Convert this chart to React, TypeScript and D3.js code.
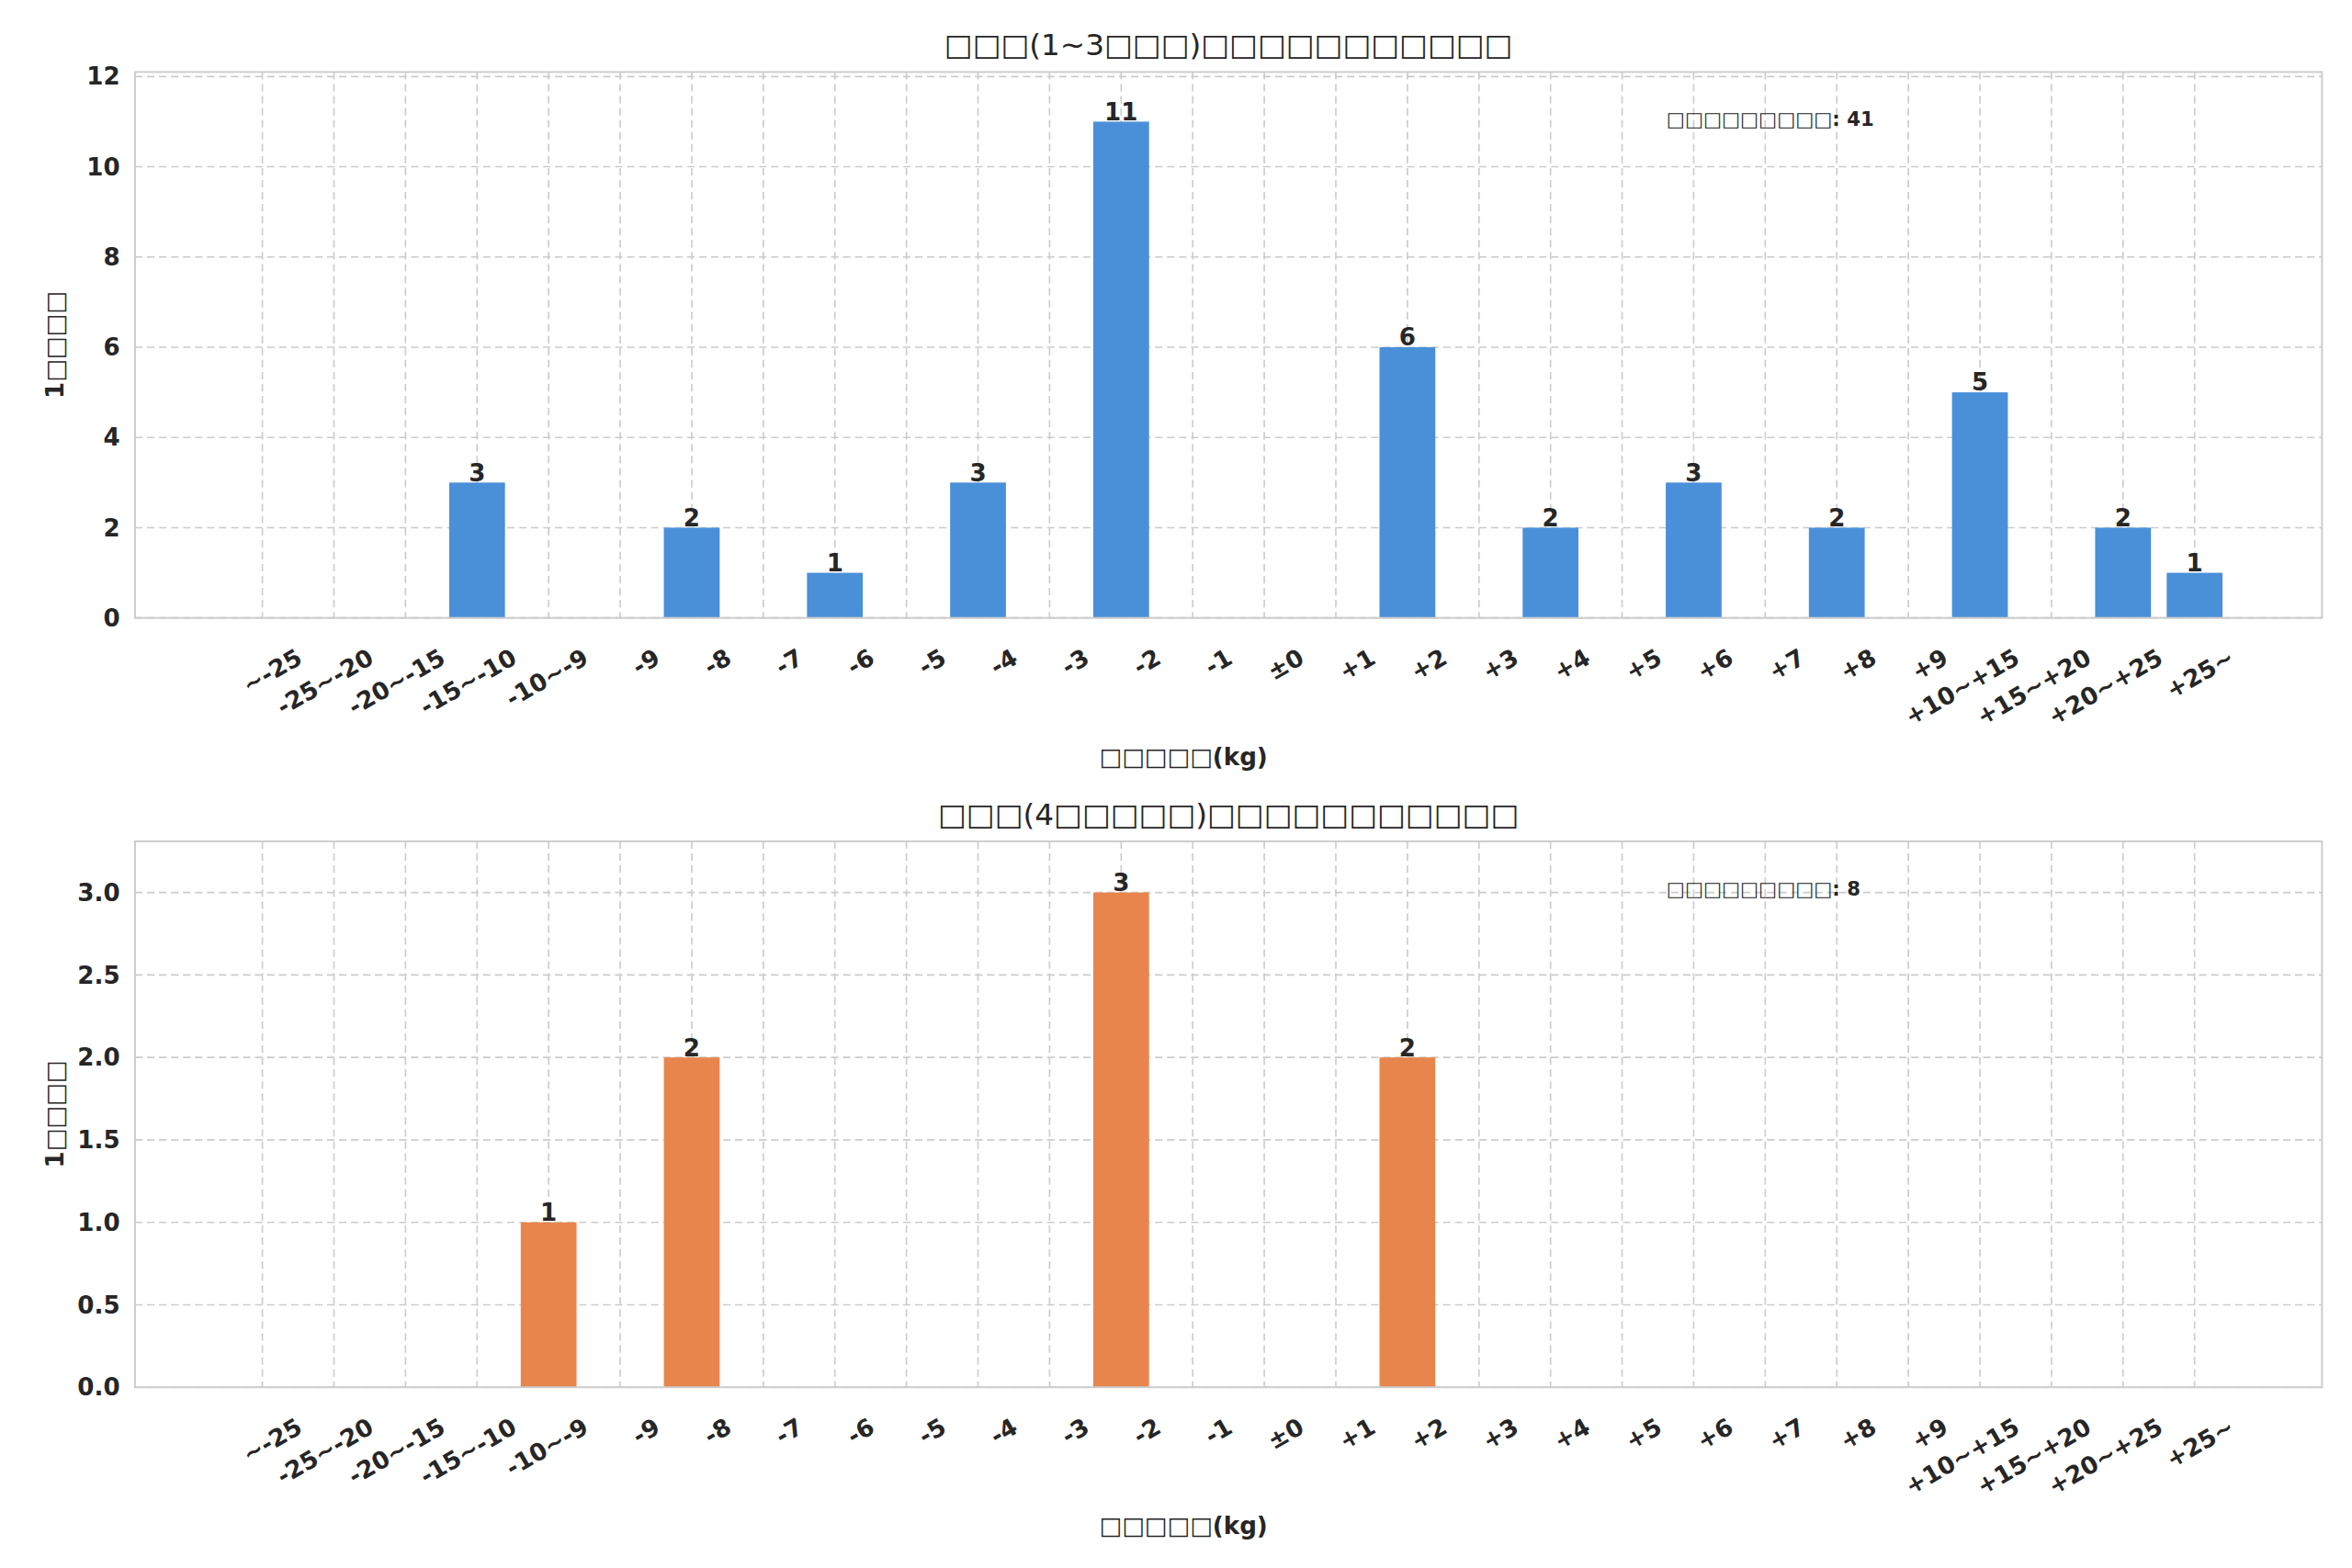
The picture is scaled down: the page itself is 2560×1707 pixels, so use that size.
import React from 'react';
import * as d3 from 'd3';

const categories = ['~-25', '-25~-20', '-20~-15', '-15~-10', '-10~-9', '-9', '-8', '-7', '-6', '-5', '-4', '-3', '-2', '-1', '±0',
  '+1', '+2', '+3', '+4', '+5', '+6', '+7', '+8', '+9', '+10~+15', '+15~+20', '+20~+25', '+25~'];
// bar values by tick index
const topCounts = [0, 0, 0, 3, 0, 0, 2, 0, 1, 0, 3, 0, 11, 0, 0, 0, 6, 0, 2, 0, 3, 0, 2, 0, 5, 0, 2, 1];
const bottomCounts = [0, 0, 0, 0, 1, 0, 2, 0, 0, 0, 0, 0, 3, 0, 0, 0, 2, 0, 0, 0, 0, 0, 0, 0, 0, 0, 0, 0];
const topTicks = [0, 2, 4, 6, 8, 10, 12];
const bottomTicks = [0, 0.5, 1, 1.5, 2, 2.5, 3];

const W = 1568;
const H = 1045.5;
const left = 90, right = 1548;
const ink = '#262626';
const font = 'DejaVu Sans, sans-serif';

interface PanelProps {
  top: number; bottom: number; counts: number[]; ticks: number[]; yMax: number;
  fmt: (v: number) => string; color: string; title: string; note: string;
}

const x = d3.scaleLinear().domain([-1.78, 28.78]).range([left, right]);
const barW = 0.78 * (x(1) - x(0));

const Panel: React.FC<PanelProps> = ({ top, bottom, counts, ticks, yMax, fmt, color, title, note }) => {
  const y = d3.scaleLinear().domain([0, yMax]).range([bottom, top]);
  const mid = (top + bottom) / 2;
  return (
    <g fontFamily={font} fill={ink}>
      {categories.map((_, i) => (
        <line key={'gx' + i} x1={x(i)} x2={x(i)} y1={top} y2={bottom} stroke="#cccccc" strokeDasharray="5,3" strokeWidth={1} />
      ))}
      {ticks.map(t => (
        <line key={'gy' + t} x1={left} x2={right} y1={y(t)} y2={y(t)} stroke="#cccccc" strokeDasharray="5,3" strokeWidth={1} />
      ))}
      {counts.map((c, i) => c > 0 && (
        <g key={'b' + i}>
          <rect x={x(i) - barW / 2} width={barW} y={y(c)} height={y(0) - y(c)} fill={color} />
          <text x={x(i)} y={y(c) - 1} textAnchor="middle" fontSize={16} fontWeight="bold">{c}</text>
        </g>
      ))}
      <rect x={left} y={top} width={right - left} height={bottom - top} fill="none" stroke="#cccccc" strokeWidth={1.2} />
      {ticks.map(t => (
        <text key={'ty' + t} x={left - 10} y={y(t)} dy="0.35em" textAnchor="end" fontSize={16} fontWeight="bold">{fmt(t)}</text>
      ))}
      {categories.map((c, i) => (
        <text key={'tx' + i} transform={`translate(${x(i) + 22},${bottom + 20}) rotate(-30)`} textAnchor="end" dy="0.7em"
          fontSize={16} fontWeight="bold">{c}</text>
      ))}
      <text x={(left + right) / 2} y={top - 11} textAnchor="middle" fontSize={20}>{title}</text>
      <text x={(left + right) / 2 - 30} y={bottom + 98} textAnchor="middle" fontSize={16} fontWeight="bold">□□□□□(kg)</text>
      <text transform={`translate(42,${mid}) rotate(-90)`} textAnchor="middle" fontSize={16} fontWeight="bold">1□□□□</text>
      <text x={1111} y={top + 36} fontSize={13} fontWeight="bold">{note}</text>
    </g>
  );
};

export default function App() {
  return (
    <svg width={2560} height={1707} viewBox={`0 0 ${W} ${H}`} style={{ position: 'absolute', left: 0, top: 0, background: '#fff' }}>
      <rect width={W} height={H} fill="#fff" />
      <Panel top={48} bottom={412} counts={topCounts} ticks={topTicks} yMax={12.1} fmt={v => String(v)}
        color="#4a90d9" title="□□□(1~3□□□)□□□□□□□□□□□" note="□□□□□□□□□: 41" />
      <Panel top={561} bottom={925} counts={bottomCounts} ticks={bottomTicks} yMax={3.31} fmt={v => v.toFixed(1)}
        color="#e8854d" title="□□□(4□□□□□)□□□□□□□□□□□" note="□□□□□□□□□: 8" />
    </svg>
  );
}
